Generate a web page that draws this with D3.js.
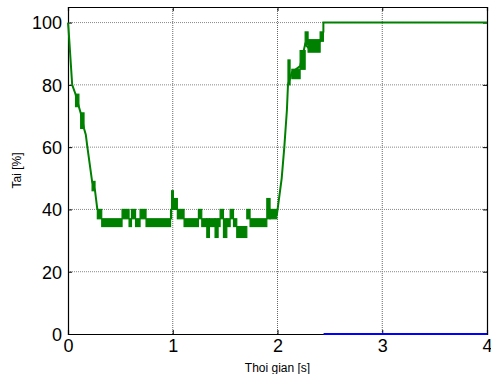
<!DOCTYPE html>
<meta charset="utf-8">
<style>
body { margin: 0; background: #fff; }
text { font-family: "Liberation Sans", Arial, sans-serif; fill: #000; }
</style>
<body>
<script src="https://d3js.org/d3.v7.min.js"></script>
<script>

var xTicks = [0, 1, 2, 3, 4];
var yTicks = [0, 20, 40, 60, 80, 100];

// main load trace (time [s], load [%])
var lineT = [0, 0.005, 0.04, 0.072, 0.104, 0.121, 0.153, 0.17, 0.185, 0.23, 0.258, 0.28];
var lineV = [100, 98, 80, 77, 73, 71, 66, 64, 60, 49, 46, 40];
var riseT = [1.993, 2.04, 2.065, 2.09, 2.1, 2.137, 2.216, 2.264, 2.292, 2.407, 2.438, 2.438, 4];
var riseV = [38, 50, 60, 72, 80, 84, 86, 93, 92, 94, 97, 100, 100];

// chattering bands: start, end, low, high
var bandT0 = [0.072, 0.121, 0.230, 0.28, 0.322, 0.516, 0.583, 0.606, 0.645, 0.688, 0.745, 0.979, 0.989, 1.006, 1.044, 1.108, 1.245, 1.277, 1.325, 1.35, 1.404, 1.433, 1.452, 1.484, 1.516, 1.548, 1.58, 1.611, 1.707, 1.738, 1.898, 1.929, 2.1, 2.137, 2.216, 2.264, 2.292, 2.407];
var bandT1 = [0.104, 0.153, 0.258, 0.322, 0.516, 0.583, 0.606, 0.645, 0.688, 0.745, 0.979, 0.989, 1.006, 1.044, 1.108, 1.245, 1.277, 1.325, 1.35, 1.404, 1.433, 1.452, 1.484, 1.516, 1.548, 1.58, 1.611, 1.707, 1.738, 1.898, 1.929, 1.993, 2.12, 2.216, 2.264, 2.292, 2.407, 2.438];
var bandLo = [73, 66, 46, 37, 34.5, 37, 34.5, 37, 34.5, 37, 34.5, 37, 40, 40, 37, 34.5, 37, 34.5, 31, 34.5, 31, 34.5, 37, 31, 34.5, 37, 34.5, 31, 37, 34.5, 37, 37, 80, 82, 85, 93, 90.5, 94];
var bandHi = [77, 71, 49, 40, 37, 40, 37, 40, 37, 40, 37, 40, 46, 43.5, 40, 37, 40, 37, 37, 37, 37, 37, 40, 37, 37, 40, 37, 34.5, 40, 37, 43.5, 40, 88, 85, 91, 97, 94.5, 97];

// second signal (blue)
var blueT = [2.44, 4];
var blueV = [0, 0];

var width = 491, height = 374;
var margin = {top: 7, right: 4, bottom: 40, left: 68};
var w = width - margin.left - margin.right,
    h = height - margin.top - margin.bottom;

var svg = d3.select("body").append("svg")
    .attr("width", width)
    .attr("height", height);

var g = svg.append("g")
    .attr("transform", "translate(" + margin.left + "," + margin.top + ")");

var x = d3.scaleLinear().domain([0, 4]).range([0, w]);
var y = d3.scaleLinear().domain([0, 105]).range([h, 0]);

// grid
g.selectAll(".gx").data(xTicks.slice(1, -1)).enter().append("line")
    .attr("x1", d => x(d)).attr("x2", d => x(d))
    .attr("y1", 0).attr("y2", h)
    .attr("stroke", "#666").attr("stroke-dasharray", "1,1");
g.selectAll(".gy").data(yTicks.slice(1)).enter().append("line")
    .attr("x1", 0).attr("x2", w)
    .attr("y1", d => y(d)).attr("y2", d => y(d))
    .attr("stroke", "#888").attr("stroke-dasharray", "1,1");

// axes with inward ticks
var xAxis = g.append("g").attr("transform", "translate(0," + h + ")")
    .call(d3.axisBottom(x).tickValues(xTicks).tickSize(-4).tickPadding(8).tickFormat(d3.format("d")));
var xTop = g.append("g")
    .call(d3.axisTop(x).tickValues(xTicks).tickSize(-4).tickFormat(""));
var yAxis = g.append("g")
    .call(d3.axisLeft(y).tickValues(yTicks).tickSize(-4).tickPadding(6).tickFormat(d3.format("d")));
var yRight = g.append("g").attr("transform", "translate(" + w + ",0)")
    .call(d3.axisRight(y).tickValues(yTicks).tickSize(-4).tickFormat(""));

[xAxis, xTop, yAxis, yRight].forEach(function(a) {
  a.select(".domain").attr("stroke", "#000").attr("stroke-width", 1.2);
  a.selectAll(".tick line").attr("stroke", "#000");
  a.selectAll("text").style("font-size", "18px").attr("fill", "#000");
});
xAxis.selectAll("text").attr("dy", "0.55em");
yAxis.selectAll("text").attr("dy", "0.35em");

// data
var green = "#008000";

g.selectAll(".band").data(bandT0).enter().append("rect")
    .attr("x", (d, i) => x(d))
    .attr("width", (d, i) => x(bandT1[i]) - x(d))
    .attr("y", (d, i) => y(bandHi[i]))
    .attr("height", (d, i) => y(bandLo[i]) - y(bandHi[i]))
    .attr("fill", green).attr("stroke", green).attr("stroke-width", 1.2);

var line = d3.line().x(d => x(d[0])).y(d => y(d[1]));

g.append("path")
    .datum(lineT.map((t, i) => [t, lineV[i]]))
    .attr("d", line).attr("fill", "none")
    .attr("stroke", green).attr("stroke-width", 2);

g.append("path")
    .datum(riseT.map((t, i) => [t, riseV[i]]))
    .attr("d", line).attr("fill", "none")
    .attr("stroke", green).attr("stroke-width", 2);

g.append("path")
    .datum(blueT.map((t, i) => [t, blueV[i]]))
    .attr("d", line).attr("fill", "none")
    .attr("stroke", "#0000ff").attr("stroke-width", 2);

// labels
svg.append("text")
    .attr("x", margin.left + w / 2).attr("y", 372)
    .attr("text-anchor", "middle")
    .style("font-size", "12px")
    .text("Thoi gian [s]");

svg.append("text")
    .attr("transform", "translate(21," + (margin.top + h / 2) + ") rotate(-90)")
    .attr("text-anchor", "middle")
    .style("font-size", "12px")
    .text("Tai [%]");

</script>
